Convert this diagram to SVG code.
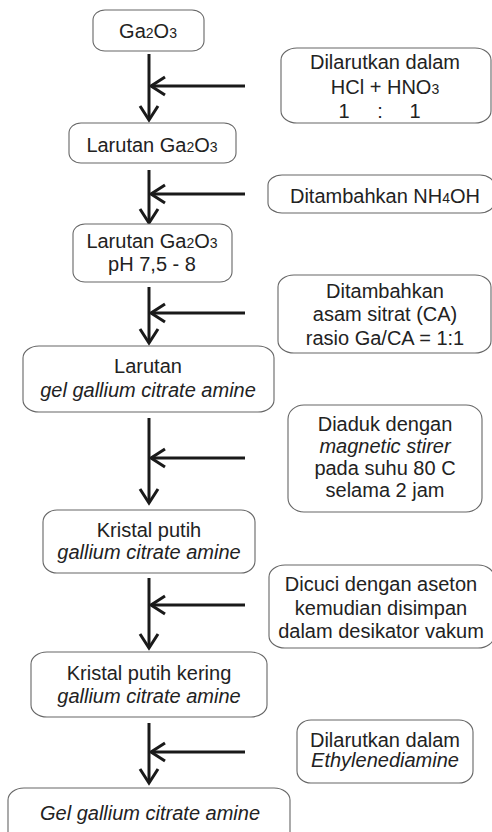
<svg xmlns="http://www.w3.org/2000/svg" width="492" height="832" viewBox="0 0 492 832">
<style>
.box{fill:#fff;stroke:#666;stroke-width:1.1}
text{font-family:"Liberation Sans",Arial,sans-serif;font-size:20px;fill:#222;text-anchor:middle}
.i{font-style:italic}
.s{font-size:14px}
.ln{stroke:#1a1a1a;stroke-width:3;fill:none}
</style>
<defs>
<marker id="ah" markerUnits="userSpaceOnUse" markerWidth="20" markerHeight="20" refX="0" refY="0" orient="auto" overflow="visible">
<path d="M-14,-9 L0,0 L-14,9" fill="none" stroke="#1a1a1a" stroke-width="3" stroke-linejoin="miter"/>
</marker>
</defs>
<rect width="492" height="832" fill="#fff"/>
<g id="connectors">
<line class="ln" x1="149" y1="54" x2="149" y2="120" marker-end="url(#ah)"/>
<line class="ln" x1="245" y1="86" x2="151" y2="86" marker-end="url(#ah)"/>
<line class="ln" x1="149" y1="170" x2="149" y2="223" marker-end="url(#ah)"/>
<line class="ln" x1="245" y1="194" x2="151" y2="194" marker-end="url(#ah)"/>
<line class="ln" x1="149" y1="287" x2="149" y2="343" marker-end="url(#ah)"/>
<line class="ln" x1="245" y1="313" x2="151" y2="313" marker-end="url(#ah)"/>
<line class="ln" x1="149" y1="418" x2="149" y2="503" marker-end="url(#ah)"/>
<line class="ln" x1="245" y1="458" x2="151" y2="458" marker-end="url(#ah)"/>
<line class="ln" x1="149" y1="578" x2="149" y2="648" marker-end="url(#ah)"/>
<line class="ln" x1="245" y1="605" x2="151" y2="605" marker-end="url(#ah)"/>
<line class="ln" x1="149" y1="723" x2="149" y2="783" marker-end="url(#ah)"/>
<line class="ln" x1="245" y1="752" x2="151" y2="752" marker-end="url(#ah)"/>
</g>
<g id="n1">
<rect class="box" x="93" y="10" width="111" height="41" rx="12" ry="10"/>
<text x="148" y="38">Ga<tspan class="s">2</tspan>O<tspan class="s">3</tspan></text>
</g>
<g id="r1">
<rect class="box" x="281" y="48" width="210" height="75" rx="16" ry="12"/>
<text x="385" y="69">Dilarutkan dalam</text>
<text x="385" y="94">HCl + HNO<tspan class="s">3</tspan></text>
<text y="118"><tspan x="344">1</tspan><tspan x="380">:</tspan><tspan x="415">1</tspan></text>
</g>
<g id="n2">
<rect class="box" x="69" y="123" width="167" height="40" rx="12" ry="10"/>
<text x="152" y="152">Larutan Ga<tspan class="s">2</tspan>O<tspan class="s">3</tspan></text>
</g>
<g id="r2">
<rect class="box" x="268" y="175" width="226" height="38" rx="14" ry="10"/>
<text x="385" y="203">Ditambahkan NH<tspan class="s">4</tspan>OH</text>
</g>
<g id="n3">
<rect class="box" x="73" y="224" width="159" height="58" rx="12" ry="10"/>
<text x="152" y="248">Larutan Ga<tspan class="s">2</tspan>O<tspan class="s">3</tspan></text>
<text x="152" y="271">pH 7,5 - 8</text>
</g>
<g id="r3">
<rect class="box" x="278" y="275" width="213" height="78" rx="16" ry="12"/>
<text x="385" y="298">Ditambahkan</text>
<text x="385" y="321">asam sitrat (CA)</text>
<text x="385" y="345">rasio Ga/CA = 1:1</text>
</g>
<g id="n4">
<rect class="box" x="23" y="346" width="251" height="66" rx="16" ry="12"/>
<text x="148" y="373">Larutan</text>
<text class="i" x="148" y="397">gel gallium citrate amine</text>
</g>
<g id="r4">
<rect class="box" x="288" y="405" width="194" height="107" rx="16" ry="14"/>
<text x="385" y="431">Diaduk dengan</text>
<text class="i" x="385" y="453">magnetic stirer</text>
<text x="385" y="475">pada suhu 80 C</text>
<text x="385" y="497">selama 2 jam</text>
</g>
<g id="n5">
<rect class="box" x="43" y="510" width="212" height="63" rx="14" ry="12"/>
<text x="149" y="537">Kristal putih</text>
<text class="i" x="149" y="559">gallium citrate amine</text>
</g>
<g id="r5">
<rect class="box" x="269" y="565" width="225" height="83" rx="16" ry="12"/>
<text x="381" y="591">Dicuci dengan aseton</text>
<text x="381" y="615">kemudian disimpan</text>
<text x="381" y="638">dalam desikator vakum</text>
</g>
<g id="n6">
<rect class="box" x="31" y="652" width="236" height="65" rx="16" ry="12"/>
<text x="149" y="680">Kristal putih kering</text>
<text class="i" x="149" y="703">gallium citrate amine</text>
</g>
<g id="r6">
<rect class="box" x="297" y="720" width="176" height="63" rx="14" ry="12"/>
<text x="385" y="747">Dilarutkan dalam</text>
<text class="i" x="385" y="767">Ethylenediamine</text>
</g>
<g id="n7">
<rect class="box" x="8" y="788" width="282" height="60" rx="16" ry="12"/>
<text class="i" x="150" y="820">Gel gallium citrate amine</text>
</g>
</svg>
